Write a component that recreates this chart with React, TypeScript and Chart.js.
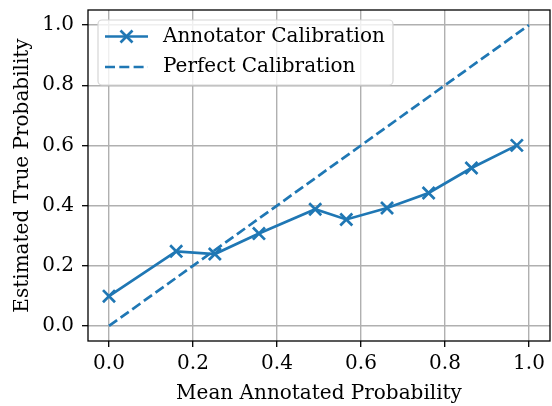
import React, { useEffect, useRef } from "react";
import { Chart, registerables } from "chart.js";

Chart.register(...registerables);

const meanAnnotated = [0.0, 0.16, 0.252, 0.357, 0.491, 0.565, 0.662, 0.761, 0.863, 0.971];
const estimatedTrue = [0.099, 0.248, 0.239, 0.307, 0.388, 0.354, 0.392, 0.442, 0.525, 0.6];
const perfectX = [0, 1];
const perfectY = [0, 1];
const tickValues = [0, 0.2, 0.4, 0.6, 0.8, 1.0];
const seriesLabels = ["Annotator Calibration", "Perfect Calibration"];
const xTitle = "Mean Annotated Probability";
const yTitle = "Estimated True Probability";

const BLUE = "#1f77b4";
const FONT = "'DejaVu Serif', serif";
const FS = 20;

const framePlugin = {
  id: "frame",
  afterDatasetsDraw(chart: any) {
    const { ctx } = chart;
    ctx.save();
    const x0 = 98, y0 = 20, w = 295, h = 65, r = 4;
    ctx.beginPath();
    ctx.moveTo(x0 + r, y0);
    ctx.arcTo(x0 + w, y0, x0 + w, y0 + h, r);
    ctx.arcTo(x0 + w, y0 + h, x0, y0 + h, r);
    ctx.arcTo(x0, y0 + h, x0, y0, r);
    ctx.arcTo(x0, y0, x0 + w, y0, r);
    ctx.closePath();
    ctx.fillStyle = "rgba(255,255,255,0.8)";
    ctx.fill();
    ctx.strokeStyle = "#d6d6d6";
    ctx.lineWidth = 1.2;
    ctx.stroke();

    const hx0 = 105, hx1 = 148, tx = 163;
    const rows = [36.5, 67];
    ctx.strokeStyle = BLUE;
    ctx.lineWidth = 2.7;
    ctx.lineCap = "butt";
    ctx.beginPath();
    ctx.moveTo(hx0, rows[0]);
    ctx.lineTo(hx1, rows[0]);
    ctx.stroke();
    const mx = (hx0 + hx1) / 2, m = 6;
    ctx.beginPath();
    ctx.moveTo(mx - m, rows[0] - m);
    ctx.lineTo(mx + m, rows[0] + m);
    ctx.moveTo(mx - m, rows[0] + m);
    ctx.lineTo(mx + m, rows[0] - m);
    ctx.stroke();
    ctx.setLineDash([10, 4.3]);
    ctx.beginPath();
    ctx.moveTo(hx0, rows[1]);
    ctx.lineTo(hx1, rows[1]);
    ctx.stroke();
    ctx.setLineDash([]);

    ctx.fillStyle = "#000";
    ctx.font = `${FS}px ${FONT}`;
    ctx.textBaseline = "middle";
    ctx.textAlign = "left";
    ctx.fillText(seriesLabels[0], tx, rows[0]);
    ctx.fillText(seriesLabels[1], tx, rows[1]);
    ctx.restore();
  },
  afterDraw(chart: any) {
    const { ctx, chartArea: a } = chart;
    ctx.save();
    ctx.strokeStyle = "#000";
    ctx.lineWidth = 1.3;
    ctx.strokeRect(a.left, a.top, a.right - a.left, a.bottom - a.top);
    ctx.restore();
  },
};

export default function App() {
  const ref = useRef<HTMLCanvasElement>(null);
  useEffect(() => {
    if (!ref.current) return;
    const chart = new Chart(ref.current, {
      type: "line",
      data: {
        datasets: [
          {
            label: seriesLabels[0],
            data: meanAnnotated.map((x, i) => ({ x, y: estimatedTrue[i] })),
            borderColor: BLUE,
            backgroundColor: BLUE,
            borderWidth: 2.7,
            pointStyle: "crossRot",
            pointRadius: 8.5,
            pointBorderWidth: 2.7,
            pointBorderColor: BLUE,
            tension: 0,
            order: 1,
          },
          {
            label: seriesLabels[1],
            data: perfectX.map((x, i) => ({ x, y: perfectY[i] })),
            borderColor: BLUE,
            borderWidth: 2.7,
            borderDash: [10, 4.3],
            pointRadius: 0,
            tension: 0,
            order: 2,
          },
        ],
      },
      plugins: [framePlugin],
      options: {
        animation: false,
        responsive: false,
        devicePixelRatio: 1,
        layout: { autoPadding: false, padding: { top: 10, right: 2, left: 0, bottom: 0 } },
        plugins: { legend: { display: false }, tooltip: { enabled: false } },
        scales: {
          x: {
            type: "linear",
            min: -0.05,
            max: 1.05,
            afterBuildTicks: (s: any) => {
              s.ticks = tickValues.map((v) => ({ value: v }));
            },
            afterFit: (s: any) => {
              s.height = 65;
              s.paddingLeft = 0;
              s.paddingRight = 0;
            },
            border: { display: false },
            grid: { color: "#b0b0b0", lineWidth: 1.4, tickColor: "#000", tickLength: 6, tickWidth: 1.3 },
            ticks: {
              color: "#000",
              font: { family: FONT, size: FS },
              padding: 5,
              maxRotation: 0,
              callback: (v: any) => Number(v).toFixed(1),
            },
            title: {
              display: true,
              text: xTitle,
              color: "#000",
              font: { family: FONT, size: FS },
              padding: { top: 2, bottom: 0 },
            },
          },
          y: {
            type: "linear",
            min: -0.05,
            max: 1.05,
            afterBuildTicks: (s: any) => {
              s.ticks = tickValues.map((v) => ({ value: v }));
            },
            afterFit: (s: any) => {
              s.width = 88;
              s.paddingTop = 0;
              s.paddingBottom = 0;
            },
            border: { display: false },
            grid: { color: "#b0b0b0", lineWidth: 1.4, tickColor: "#000", tickLength: 6, tickWidth: 1.3 },
            ticks: {
              color: "#000",
              font: { family: FONT, size: FS },
              padding: 8,
              callback: (v: any) => Number(v).toFixed(1),
            },
            title: {
              display: true,
              text: yTitle,
              color: "#000",
              font: { family: FONT, size: FS },
              padding: { top: 11, bottom: 0 },
            },
          },
        },
      },
    } as any);
    return () => chart.destroy();
  }, []);
  return (
    <div style={{ position: "absolute", left: 0, top: 0, width: 552, height: 406, background: "#fff" }}>
      <canvas ref={ref} width={552} height={406} />
    </div>
  );
}
